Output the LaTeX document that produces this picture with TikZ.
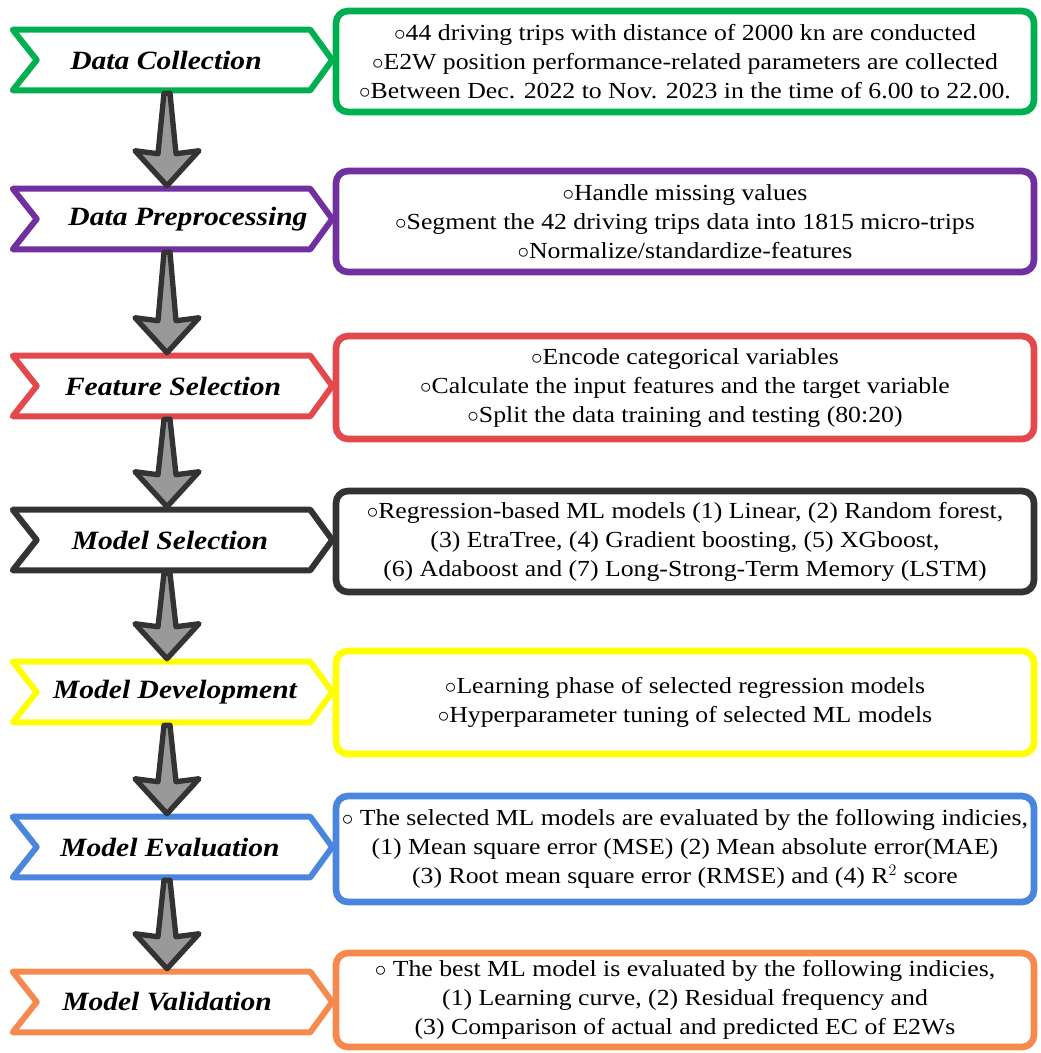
\documentclass[tikz,border=0pt]{standalone}
\usepackage{fontspec}
\setmainfont{Liberation Serif}[FakeStretch=1.12]
\usetikzlibrary{calc}

\definecolor{cgreen}{RGB}{0,176,80}
\definecolor{cpurple}{RGB}{112,48,160}
\definecolor{cred}{RGB}{226,72,76}
\definecolor{cdark}{RGB}{51,51,51}
\definecolor{cyellow}{RGB}{255,255,0}
\definecolor{cblue}{RGB}{74,134,222}
\definecolor{corange}{RGB}{245,138,78}

\tikzset{
  steplabel/.style={minimum width=222.75pt, minimum height=45pt, inner sep=0pt,
    font=\fontsize{19.8}{22}\selectfont\bfseries\itshape},
  stepedge/.style={draw=#1, line width=4.5pt, line join=round},
  infobox/.style={draw=#1, fill=white, line width=5pt, rounded corners=9pt,
    minimum width=523.5pt, align=center, inner sep=0pt,
    font=\fontsize{17.25}{21.75}\selectfont},
  downarrow/.style={draw=cdark, fill=black!40, line width=4pt, line join=round}
}

\begin{document}
\begin{tikzpicture}[x=0.75pt, y=-0.75pt]
  \useasboundingbox (0,0) rectangle (1040,1053);

  % chevrons on the left
  \foreach \n/\y/\col/\dx/\txt in {1/60/cgreen/6.75/Data Collection,
      2/219/cpurple/39.75/Data Preprocessing,
      3/386/cred/17.25/Feature Selection,
      4/540/cdark/12.75/Model Selection,
      5/692/cyellow/20.25/Model Development,
      6/847/cblue/12.75/Model Evaluation,
      7/1002/corange/8.25/Model Validation} {
    \node[steplabel] (c\n) at (161.5,\y) {\hspace*{\dx pt}\txt};
    \draw[stepedge=\col] (c\n.north west) -- (c\n.north east) -- ($(c\n.east)+(22,0)$)
      -- (c\n.south east) -- (c\n.south west) -- ($(c\n.west)+(24,0)$) -- cycle;
  }

  % boxes on the right
  \node[infobox=cgreen, minimum height=75.75pt] (b1) at (685,61.5)
    {$\circ$44 driving trips with distance of 2000 kn are conducted\\
     $\circ$E2W position performance-related parameters are collected\\
     $\circ$Between Dec. 2022 to Nov. 2023 in the time of 6.00 to 22.00.};
  \node[infobox=cpurple, minimum height=75.75pt] (b2) at (685,221.5)
    {$\circ$Handle missing values\\
     $\circ$Segment the 42 driving trips data into 1815 micro-trips\\
     $\circ$Normalize/standardize-features};
  \node[infobox=cred, minimum height=77.25pt] (b3) at (685,387.5)
    {$\circ$Encode categorical variables\\
     $\circ$Calculate the input features and the target variable\\
     $\circ$Split the data training and testing (80:20)};
  \node[infobox=cdark, minimum height=75.75pt] (b4) at (685,541.5)
    {$\circ$Regression-based ML models (1) Linear, (2) Random forest,\\
     (3) EtraTree, (4) Gradient boosting, (5) XGboost,\\
     (6) Adaboost and (7) Long-Strong-Term Memory (LSTM)};
  \node[infobox=cyellow, minimum height=77.25pt] (b5) at (685,702.5)
    {$\circ$Learning phase of selected regression models\\
     $\circ$Hyperparameter tuning of selected ML models};
  \node[infobox=cblue, minimum height=79.5pt] (b6) at (685,849)
    {$\circ$ The selected ML models are evaluated by the following indicies,\\
     (1) Mean square error (MSE) (2) Mean absolute error(MAE)\\
     (3) Root mean square error (RMSE) and (4) R$^2$ score};
  \node[infobox=corange, minimum height=70.5pt] (b7) at (685,1000)
    {$\circ$ The best ML model is evaluated by the following indicies,\\
     (1) Learning curve, (2) Residual frequency and\\
     (3) Comparison of actual and predicted EC of E2Ws};

  % gray block arrows
  \foreach \a/\b in {1/2,2/3,3/4,4/5,5/6,6/7}
    \draw[downarrow] ($(c\a.south)+(2.5,3)$) -- ($(c\a.south)+(8.5,3)$)
      -- ($(c\b.north)+(14.5,-35)$) -- ($(c\b.north)+(37.5,-38)$)
      -- ($(c\b.north)+(5.5,-3)$) -- ($(c\b.north)+(-26.5,-38)$)
      -- ($(c\b.north)+(-3.5,-35)$) -- cycle;
\end{tikzpicture}
\end{document}
